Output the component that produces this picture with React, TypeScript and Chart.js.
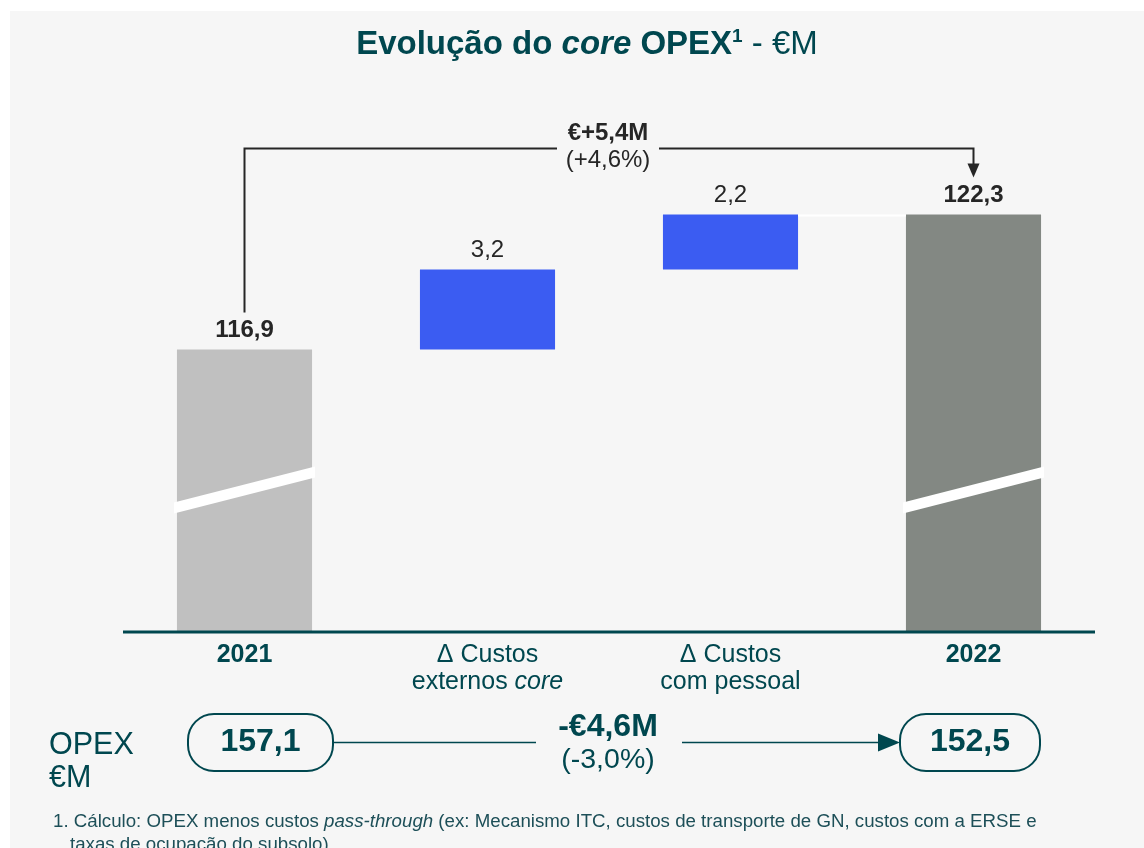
import React, { useEffect, useRef } from "react";
import { Chart, registerables } from "chart.js";

Chart.register(...registerables);

// ---------- data ----------
const categories = ["2021", "Δ Custos externos core", "Δ Custos com pessoal", "2022"];
const categoryLines: { text: string; italic?: boolean; bold?: boolean }[][][] = [
  [[{ text: "2021", bold: true }]],
  [[{ text: "Δ Custos" }], [{ text: "externos " }, { text: "core", italic: true }]],
  [[{ text: "Δ Custos" }], [{ text: "com pessoal" }]],
  [[{ text: "2022", bold: true }]],
];
const barKinds = ["total", "delta", "delta", "total"];
const barValues = [116.9, 3.2, 2.2, 122.3];
const barColors = ["#c0c0c0", "#3b5cf2", "#3b5cf2", "#838883"];
const axisBase = 105.6; // broken axis start
const axisTop = 126.88;
const breakValue = 111.3;

const coreChange = "€+5,4M";
const coreChangePct = "(+4,6%)";

const opexLabel = ["OPEX", "€M"];
const opexValues = [157.1, 152.5];
const opexChange = "-€4,6M";
const opexChangePct = "(-3,0%)";

const footnoteLine1 = [
  { text: "1. Cálculo: OPEX menos custos " },
  { text: "pass-through", italic: true },
  { text: " (ex: Mecanismo ITC, custos de transporte de GN, custos com a ERSE e" },
];
const footnoteLine2 = "taxas de ocupação do subsolo)";

// ---------- helpers ----------
const FONT = '"Liberation Sans", Arial, sans-serif';
const TEAL = "#00474f";
const DARK = "#262626";
const fmt = (v: number) => v.toFixed(1).replace(".", ",");

function font(size: number, bold = false, italic = false) {
  return `${italic ? "italic " : ""}${bold ? "bold " : ""}${size}px ${FONT}`;
}

type Run = { text: string; italic?: boolean; bold?: boolean; size?: number; sup?: boolean };

function drawRuns(ctx: CanvasRenderingContext2D, runs: Run[], x: number, y: number, size: number, align: "center" | "left", color: string, baseBold = false) {
  ctx.save();
  ctx.fillStyle = color;
  ctx.textBaseline = "middle";
  ctx.textAlign = "left";
  const widths = runs.map((r) => {
    ctx.font = font(r.size ?? size, r.bold ?? baseBold, !!r.italic);
    return ctx.measureText(r.text).width;
  });
  const total = widths.reduce((a, b) => a + b, 0);
  let cx = align === "center" ? x - total / 2 : x;
  runs.forEach((r, i) => {
    ctx.font = font(r.size ?? size, r.bold ?? baseBold, !!r.italic);
    ctx.fillText(r.text, cx, r.sup ? y - size * 0.26 : y);
    cx += widths[i];
  });
  ctx.restore();
}

function roundRect(ctx: CanvasRenderingContext2D, x: number, y: number, w: number, h: number, r: number) {
  ctx.beginPath();
  ctx.moveTo(x + r, y);
  ctx.lineTo(x + w - r, y);
  ctx.arcTo(x + w, y, x + w, y + r, r);
  ctx.lineTo(x + w, y + h - r);
  ctx.arcTo(x + w, y + h, x + w - r, y + h, r);
  ctx.lineTo(x + r, y + h);
  ctx.arcTo(x, y + h, x, y + h - r, r);
  ctx.lineTo(x, y + r);
  ctx.arcTo(x, y, x + r, y, r);
  ctx.closePath();
}

// floating bar data
const floating: [number, number][] = [];
{
  let run = 0;
  barValues.forEach((v, i) => {
    if (barKinds[i] === "total") {
      run = v;
      floating.push([axisBase, v]);
    } else {
      const start = run;
      run = run + v;
      floating.push([start, run]);
    }
  });
}

const decorPlugin = {
  id: "decor",
  beforeDraw(chart: any) {
    const ctx = chart.ctx as CanvasRenderingContext2D;
    ctx.save();
    ctx.fillStyle = "#ffffff";
    ctx.fillRect(0, 0, chart.width, chart.height);
    ctx.fillStyle = "#f6f6f6";
    ctx.fillRect(10, 11, chart.width - 10, chart.height - 11);
    ctx.restore();
  },
  afterDatasetsDraw(chart: any) {
    const ctx = chart.ctx as CanvasRenderingContext2D;
    const xs = chart.scales.x;
    const ys = chart.scales.y;
    const meta = chart.getDatasetMeta(0);
    const area = chart.chartArea;

    // white connector between last delta and final total
    const b2 = meta.data[2];
    const b3 = meta.data[3];
    ctx.save();
    ctx.strokeStyle = "#ffffff";
    ctx.lineWidth = 2;
    ctx.beginPath();
    ctx.moveTo(b2.x + b2.width / 2, ys.getPixelForValue(floating[2][1]) + 1);
    ctx.lineTo(b3.x - b3.width / 2, ys.getPixelForValue(floating[3][1]) + 1);
    ctx.stroke();
    ctx.restore();

    // break marks on total bars
    [0, 3].forEach((i) => {
      const b = meta.data[i];
      const yc = ys.getPixelForValue(breakValue);
      const l = b.x - b.width / 2 - 3;
      const r = b.x + b.width / 2 + 3;
      ctx.save();
      ctx.fillStyle = "#ffffff";
      ctx.beginPath();
      ctx.moveTo(l, yc + 13);
      ctx.lineTo(r, yc - 23);
      ctx.lineTo(r, yc - 12);
      ctx.lineTo(l, yc + 24);
      ctx.closePath();
      ctx.fill();
      ctx.restore();
    });

    // axis line
    ctx.save();
    ctx.strokeStyle = TEAL;
    ctx.lineWidth = 3;
    ctx.beginPath();
    ctx.moveTo(area.left, area.bottom);
    ctx.lineTo(area.right, area.bottom);
    ctx.stroke();
    ctx.restore();

    // value labels
    barValues.forEach((v, i) => {
      const top = ys.getPixelForValue(floating[i][1]);
      const bold = barKinds[i] === "total";
      drawRuns(ctx, [{ text: fmt(v) }], xs.getPixelForValue(i), top - 19, 24, "center", DARK, bold);
    });

    // category labels
    categoryLines.forEach((lines, i) => {
      lines.forEach((runs, li) => {
        drawRuns(ctx, runs, xs.getPixelForValue(i), area.bottom + 23 + li * 27, 25, "center", TEAL);
      });
    });

    // bracket
    const x0 = xs.getPixelForValue(0);
    const x3 = xs.getPixelForValue(3);
    const yTop0 = ys.getPixelForValue(floating[0][1]) - 37;
    const yTop3 = ys.getPixelForValue(floating[3][1]) - 37;
    const yB = ys.getPixelForValue(floating[3][1]) - 66;
    const midX = (x0 + x3) / 2 - 1;
    ctx.save();
    ctx.strokeStyle = DARK;
    ctx.fillStyle = DARK;
    ctx.lineWidth = 2;
    ctx.beginPath();
    ctx.moveTo(x0, yTop0);
    ctx.lineTo(x0, yB);
    ctx.lineTo(midX - 51, yB);
    ctx.moveTo(midX + 51, yB);
    ctx.lineTo(x3, yB);
    ctx.lineTo(x3, yTop3 - 12);
    ctx.stroke();
    ctx.beginPath();
    ctx.moveTo(x3 - 6, yTop3 - 14);
    ctx.lineTo(x3 + 6, yTop3 - 14);
    ctx.lineTo(x3, yTop3);
    ctx.closePath();
    ctx.fill();
    ctx.restore();
    drawRuns(ctx, [{ text: coreChange }], midX, yB - 15, 24, "center", DARK, true);
    drawRuns(ctx, [{ text: coreChangePct }], midX, yB + 12, 24, "center", DARK, false);

    // title
    drawRuns(
      ctx,
      [
        { text: "Evolução do ", bold: true },
        { text: "core", bold: true, italic: true },
        { text: " OPEX", bold: true },
        { text: "1", bold: true, sup: true, size: 19 },
        { text: " - €M", bold: false },
      ],
      587,
      45,
      33,
      "center",
      TEAL
    );

    // OPEX row
    drawRuns(ctx, [{ text: opexLabel[0] }], 49, 746, 30.5, "left", TEAL);
    drawRuns(ctx, [{ text: opexLabel[1] }], 49, 779, 30.5, "left", TEAL);
    const pills = [
      { x: 188, w: 145 },
      { x: 900, w: 140 },
    ];
    const pillY = 714;
    const pillH = 57;
    ctx.save();
    ctx.strokeStyle = TEAL;
    ctx.lineWidth = 2;
    pills.forEach((p) => {
      roundRect(ctx, p.x, pillY, p.w, pillH, 26);
      ctx.stroke();
    });
    const lineY = pillY + pillH / 2;
    ctx.lineWidth = 1.5;
    ctx.beginPath();
    ctx.moveTo(pills[0].x + pills[0].w, lineY);
    ctx.lineTo(536, lineY);
    ctx.moveTo(682, lineY);
    ctx.lineTo(pills[1].x - 18, lineY);
    ctx.stroke();
    ctx.fillStyle = TEAL;
    ctx.beginPath();
    ctx.moveTo(pills[1].x - 22, lineY - 9);
    ctx.lineTo(pills[1].x, lineY);
    ctx.lineTo(pills[1].x - 22, lineY + 9);
    ctx.closePath();
    ctx.fill();
    ctx.restore();
    opexValues.forEach((v, i) => {
      drawRuns(ctx, [{ text: fmt(v) }], pills[i].x + pills[i].w / 2, lineY, 32, "center", TEAL, true);
    });
    drawRuns(ctx, [{ text: opexChange }], 608, 727, 32, "center", TEAL, true);
    drawRuns(ctx, [{ text: opexChangePct }], 608, 760, 28.5, "center", TEAL, false);

    // footnote
    drawRuns(ctx, footnoteLine1, 53, 822, 18.7, "left", "#1d4f58");
    drawRuns(ctx, [{ text: footnoteLine2 }], 70, 845, 18.7, "left", "#1d4f58");
  },
};

export default function App() {
  const ref = useRef<HTMLCanvasElement>(null);
  useEffect(() => {
    if (!ref.current) return;
    const chart = new Chart(ref.current, {
      type: "bar",
      data: {
        labels: categories,
        datasets: [
          {
            data: floating as any,
            backgroundColor: barColors,
            borderWidth: 0,
            barPercentage: 0.556,
            categoryPercentage: 1,
          },
        ],
      },
      options: {
        responsive: false,
        animation: false,
        devicePixelRatio: 1,
        layout: { padding: { left: 123, right: 49, top: 100, bottom: 216 } },
        plugins: { legend: { display: false }, tooltip: { enabled: false }, title: { display: false } },
        scales: {
          x: { display: false },
          y: { display: false, min: axisBase, max: axisTop },
        },
      },
      plugins: [decorPlugin],
    });
    return () => chart.destroy();
  }, []);
  return (
    <div style={{ position: "absolute", left: 0, top: 0, width: 1144, height: 848, overflow: "hidden" }}>
      <canvas ref={ref} width={1144} height={848} style={{ display: "block" }} />
    </div>
  );
}
